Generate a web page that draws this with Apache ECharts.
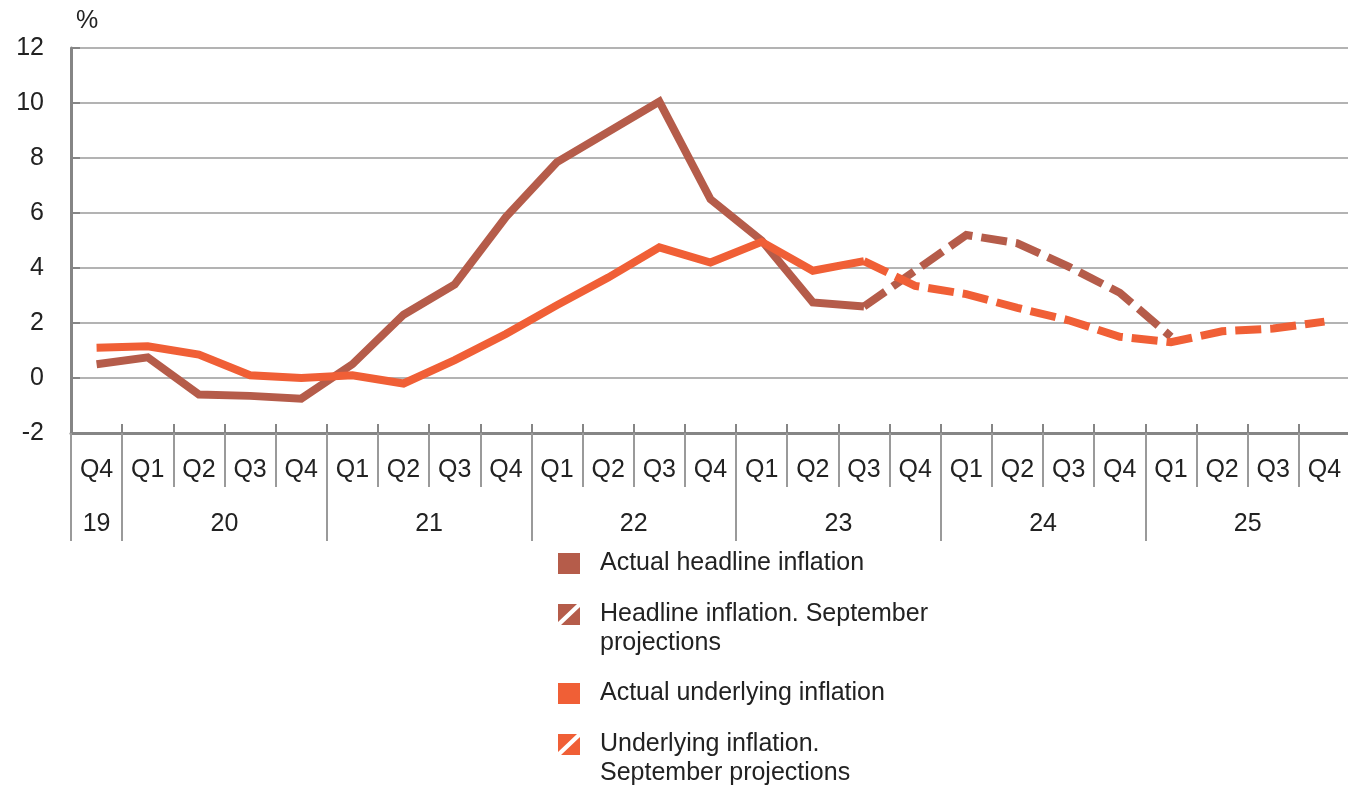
<!DOCTYPE html>
<html>
<head>
<meta charset="utf-8">
<title>Inflation and September projections</title>
<script src="https://cdn.jsdelivr.net/npm/echarts@6/dist/echarts.min.js"></script>
<style>
html, body { margin: 0; padding: 0; background: #fff; }
#chart { width: 1348px; height: 786px; }
</style>
</head>
<body>
<div id="chart"></div>
<script>
// x axis: quarter labels and the year each quarter belongs to
const quarters = ['Q4', 'Q1', 'Q2', 'Q3', 'Q4', 'Q1', 'Q2', 'Q3', 'Q4', 'Q1', 'Q2', 'Q3', 'Q4',
    'Q1', 'Q2', 'Q3', 'Q4', 'Q1', 'Q2', 'Q3', 'Q4', 'Q1', 'Q2', 'Q3', 'Q4']
const quarterYears = ['19', '20', '20', '20', '20', '21', '21', '21', '21', '22', '22', '22', '22',
    '23', '23', '23', '23', '24', '24', '24', '24', '25', '25', '25', '25']

// y axis ticks
const yMin = -2
const yMax = 12
const yStep = 2

// series values (%), null where a series has no point
const headlineActual = [0.5, 0.75, -0.6, -0.65, -0.75, 0.5, 2.3, 3.4, 5.85, 7.85, 8.95, 10.05, 6.5,
    5.0, 2.75, 2.6, null, null, null, null, null, null, null, null, null]
const headlineProj = [null, null, null, null, null, null, null, null, null, null, null, null, null,
    null, null, 2.6, 3.9, 5.2, 4.9, 4.05, 3.1, 1.5, null, null, null]
const underlyingActual = [1.1, 1.15, 0.85, 0.1, 0.0, 0.1, -0.2, 0.65, 1.6, 2.65, 3.65, 4.75, 4.2,
    4.95, 3.9, 4.25, null, null, null, null, null, null, null, null, null]
const underlyingProj = [null, null, null, null, null, null, null, null, null, null, null, null, null,
    null, null, 4.25, 3.35, 3.05, 2.55, 2.1, 1.5, 1.3, 1.7, 1.8, 2.05]

// legend texts, as wrapped in the picture
const legendLabels = [
    'Actual headline inflation',
    'Headline inflation. September\nprojections',
    'Actual underlying inflation',
    'Underlying inflation.\nSeptember projections'
]

const BROWN = '#b55c4a'
const ORANGE = '#f05f36'
const TEXT = '#222'
const FONT = '"Liberation Sans", Arial, Helvetica, sans-serif'
const AXIS = '#858585'
const SOLID_ICON = 'rect'
const SLASH_ICON = 'path://M0,0 L19,0 L0,18 Z M22,3 L22,21 L3,21 Z'

const seriesName = (i) => legendLabels[i].replace('\n', ' ')

// year label sits in the middle of its quarters, boundaries get a long tick
const yearCenters = {}
quarterYears.forEach((y, i) => {
    if (!yearCenters[y]) yearCenters[y] = { first: i, last: i }
    yearCenters[y].last = i
})
const yearLabelAt = {}
Object.keys(yearCenters).forEach((y) => {
    const c = (yearCenters[y].first + yearCenters[y].last + 1) / 2
    yearLabelAt[c * 2] = y
})
const isYearStart = (i) => i === 0 || quarterYears[i] !== quarterYears[i - 1]

function makeLegend (idx, top, icon) {
    // legend centres the text block on the icon; an empty first line
    // keeps the icon level with the first line of two-line labels
    const twoLine = legendLabels[idx].indexOf('\n') > -1
    return {
        orient: 'vertical',
        left: 558,
        top,
        padding: 0,
        itemWidth: 22,
        itemHeight: 21,
        selectedMode: false,
        data: [{ name: seriesName(idx), icon }],
        formatter: () => (twoLine ? '\n' : '') + legendLabels[idx],
        itemStyle: { borderWidth: 0 },
        textStyle: {
            fontSize: 25,
            lineHeight: 29,
            color: TEXT,
            fontFamily: FONT,
            padding: [0, 0, 0, 15]
        }
    }
}

function lineSeries (idx, data, color, dashed) {
    return {
        name: seriesName(idx),
        type: 'line',
        data,
        color,
        symbol: 'none',
        connectNulls: false,
        lineStyle: {
            width: 8,
            color,
            type: dashed ? [26, 9] : 'solid',
            join: 'miter',
            cap: 'butt'
        }
    }
}

const catAxisBase = {
    type: 'category',
    data: quarters,
    position: 'bottom',
    offset: 0,
    boundaryGap: true
}

const option = {
    animation: false,
    backgroundColor: '#fff',
    textStyle: { fontFamily: FONT },
    grid: { left: 71, right: -2, top: 48, bottom: 353, outerBoundsMode: 'none' },
    legend: [
        makeLegend(0, 549, SOLID_ICON),
        makeLegend(1, 571, SLASH_ICON),
        makeLegend(2, 679, SOLID_ICON),
        makeLegend(3, 701, SLASH_ICON)
    ],
    xAxis: [
        // quarter labels + short separators
        Object.assign({}, catAxisBase, {
            axisLine: { show: true, onZero: false, lineStyle: { color: AXIS, width: 3 } },
            axisTick: { show: true, interval: 0, length: 54, lineStyle: { color: '#9a9a9a', width: 2 } },
            axisLabel: { interval: 0, fontSize: 25, color: TEXT, fontFamily: FONT, margin: 25 },
            splitLine: { show: false }
        }),
        // little ticks poking above the axis
        Object.assign({}, catAxisBase, {
            axisLine: { show: false, onZero: false },
            axisTick: { show: true, inside: true, interval: 0, length: 9, lineStyle: { color: AXIS, width: 2 } },
            axisLabel: { show: false },
            splitLine: { show: false }
        }),
        // long separators between years
        Object.assign({}, catAxisBase, {
            axisLine: { show: false, onZero: false },
            axisTick: { show: true, interval: (i) => isYearStart(i), length: 108, lineStyle: { color: '#9a9a9a', width: 2 } },
            axisLabel: { show: false },
            splitLine: { show: false }
        }),
        // year labels centred under their quarters
        {
            type: 'value',
            position: 'bottom',
            offset: 0,
            min: 0,
            max: quarters.length,
            interval: 0.5,
            axisLine: { show: false, onZero: false },
            axisTick: { show: false },
            splitLine: { show: false },
            axisLabel: {
                fontSize: 25,
                color: TEXT,
                fontFamily: FONT,
                margin: 79,
                formatter: (v) => yearLabelAt[Math.round(v * 2)] || ''
            }
        }
    ],
    yAxis: {
        type: 'value',
        min: yMin,
        max: yMax,
        interval: yStep,
        name: '%',
        nameLocation: 'end',
        nameGap: 14,
        nameTextStyle: { fontSize: 25, color: TEXT, fontFamily: FONT, align: 'left', padding: [0, 0, 0, 5] },
        axisLine: { show: true, lineStyle: { color: AXIS, width: 3 } },
        axisTick: { show: true, inside: true, length: 9, lineStyle: { color: AXIS, width: 2 } },
        axisLabel: { fontSize: 25, color: TEXT, fontFamily: FONT, margin: 27 },
        splitLine: { show: true, lineStyle: { color: '#b3b3b3', width: 2 } }
    },
    series: [
        lineSeries(0, headlineActual, BROWN, false),
        lineSeries(1, headlineProj, BROWN, true),
        lineSeries(2, underlyingActual, ORANGE, false),
        lineSeries(3, underlyingProj, ORANGE, true)
    ]
}

const chart = echarts.init(document.getElementById('chart'), null, { renderer: 'canvas' })
chart.setOption(option)
window.addEventListener('resize', () => chart.resize())
</script>
</body>
</html>
